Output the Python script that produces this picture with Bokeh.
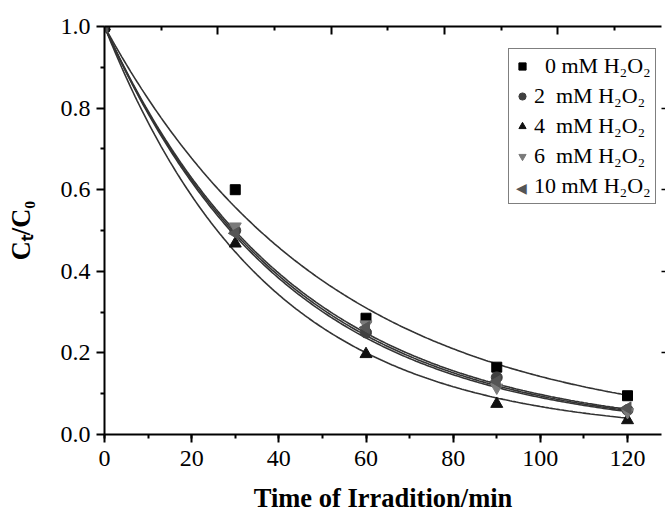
import numpy as np
from bokeh.plotting import figure
from bokeh.models import (LinearAxis, FixedTicker, Legend, LegendItem, Range1d,
                          NumeralTickFormatter, Label)
from bokeh.embed import file_html
from bokeh.resources import INLINE

# ---- data ----
time_min = [0, 30, 60, 90, 120]
series_names = ["\u20070 mM H\u2082O\u2082", "2\u00a0 mM H\u2082O\u2082", "4\u00a0 mM H\u2082O\u2082",
                "6\u00a0 mM H\u2082O\u2082", "10 mM H\u2082O\u2082"]
c_0mM = [1.0, 0.600, 0.285, 0.165, 0.095]
c_2mM = [1.0, 0.500, 0.250, 0.140, 0.060]
c_4mM = [1.0, 0.468, 0.197, 0.075, 0.035]
c_6mM = [1.0, 0.510, 0.270, 0.115, 0.055]
c_10mM = [1.0, 0.493, 0.262, 0.130, 0.065]
# pseudo-first-order fitted rate constants (1/min)
k_fit = [0.0195, 0.0236, 0.0268, 0.0240, 0.0232]
y_ticks = [0.0, 0.2, 0.4, 0.6, 0.8, 1.0]
x_ticks = [0, 20, 40, 60, 80, 100, 120]
top_major = [26, 52, 78, 104]
top_minor = [13, 39, 65, 91, 117]
right_major = [0.2, 0.4, 0.6, 0.8]

series = [c_0mM, c_2mM, c_4mM, c_6mM, c_10mM]
markers = ["square", "circle", "triangle", "inverted_triangle", "triangle"]
angles = [0, 0, 0, 0, np.pi / 2]
colors = ["#000000", "#404040", "#111111", "#7a7a7a", "#555555"]
sizes = [10, 11, 12, 12, 12]

SERIF = "Liberation Serif"

p = figure(width=665, height=516, output_backend="svg", toolbar_location=None,
           x_range=Range1d(0, 127.8), y_range=Range1d(0, 1.0),
           min_border_left=104, min_border_right=3, min_border_top=26, min_border_bottom=82)
p.outline_line_color = None
p.xgrid.visible = False
p.ygrid.visible = False
p.background_fill_color = "white"
p.border_fill_color = "white"

# fitted curves
t = np.linspace(0, 120, 241)
for k in k_fit:
    p.line(t, np.exp(-k * t), line_color="#333333", line_width=1.6)

items = []
for i, (name, ys, m, a, c, s) in enumerate(zip(series_names, series, markers, angles, colors, sizes)):
    r = p.scatter(time_min, ys, marker=m, angle=a, size=s, fill_color=c, line_color=c)
    if i == 4:
        # legend swatch for the left-pointing triangle is drawn as a text symbol below
        r = p.scatter([], [], marker="square", fill_alpha=0, line_alpha=0)
    items.append(LegendItem(label=name, renderers=[r]))

LEG_X, LEG_Y, PAD, GW, GH = 404, 230, 4, 18, 22
legend = Legend(items=items, location=(LEG_X, LEG_Y), orientation="vertical")
legend.label_text_font = SERIF
legend.label_text_font_size = "22px"
legend.label_text_color = "black"
legend.border_line_color = "black"
legend.border_line_width = 1
legend.background_fill_alpha = 0
legend.padding = PAD
legend.spacing = 4
legend.glyph_width = GW
legend.glyph_height = GH
legend.label_height = GH
legend.label_width = 114
legend.label_standoff = 3
legend.margin = 0
p.add_layout(legend, "center")

p.add_layout(Label(x=LEG_X + PAD + GW / 2, y=LEG_Y + PAD + 13, x_units="screen", y_units="screen",
                   text="\u25c0", text_color="#555555", text_font_size="14px",
                   text_font="DejaVu Sans", text_align="center", text_baseline="middle",
                   level="overlay"))

# bottom axis
xa = p.xaxis[0]
xa.ticker = FixedTicker(ticks=x_ticks, minor_ticks=list(range(0, 130, 10)))
xa.axis_label = "Time of Irradition/min"
# left axis
ya = p.yaxis[0]
ya.ticker = FixedTicker(ticks=y_ticks, minor_ticks=[0.1, 0.3, 0.5, 0.7, 0.9])
ya.formatter = NumeralTickFormatter(format="0.0")
ya.axis_label = "C\u209c/C\u2080"
for ax in (xa, ya):
    ax.axis_line_color = "black"
    ax.axis_line_width = 2
    ax.major_tick_line_color = "black"
    ax.minor_tick_line_color = "black"
    ax.major_tick_line_width = 2
    ax.minor_tick_line_width = 2
    ax.major_tick_out = 8
    ax.major_tick_in = 0
    ax.minor_tick_out = 4
    ax.minor_tick_in = 0
    ax.major_label_text_font = SERIF
    ax.major_label_text_font_size = "24px"
    ax.major_label_text_color = "black"
    ax.axis_label_text_font = SERIF
    ax.axis_label_text_font_style = "bold"
    ax.axis_label_text_font_size = "26.5px"
    ax.axis_label_text_color = "black"
xa.major_label_standoff = 8
xa.axis_label_standoff = 14
ya.major_label_standoff = 6
ya.axis_label_standoff = 22

# top axis (ticks only)
top = LinearAxis(ticker=FixedTicker(ticks=top_major, minor_ticks=top_minor))
top.axis_line_color = "black"
top.axis_line_width = 2
top.major_tick_in = 8
top.major_tick_out = 0
top.minor_tick_in = 4
top.minor_tick_out = 0
top.major_tick_line_width = 2
top.minor_tick_line_width = 2
top.major_label_text_color = None
top.major_label_text_font_size = "1px"
top.major_label_standoff = 0
p.add_layout(top, "above")

# right axis (ticks only)
right = LinearAxis(ticker=FixedTicker(ticks=right_major, minor_ticks=[]))
right.axis_line_color = None
right.major_tick_in = 0
right.major_tick_out = 4
right.major_tick_line_width = 1.5
right.major_label_text_color = None
right.major_label_text_font_size = "1px"
right.major_label_standoff = 0
p.add_layout(right, "right")

open("out.html", "w").write(file_html(p, INLINE))
